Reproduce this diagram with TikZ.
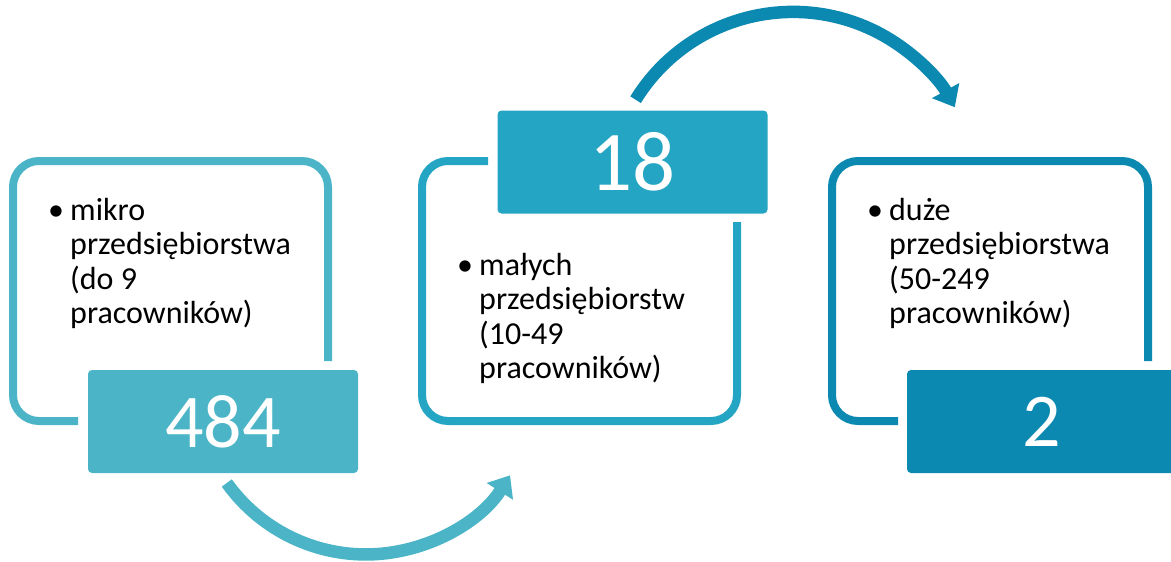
\documentclass[tikz,border=0pt]{standalone}
\usepackage{fontspec}
\setmainfont{Carlito}
\usetikzlibrary{arrows.meta}
\definecolor{tealA}{HTML}{4BB5C7}
\definecolor{tealB}{HTML}{24A5C3}
\definecolor{tealC}{HTML}{0C89B1}

\begin{document}
\begin{tikzpicture}[x=1pt, y=1pt,
  frame/.style={line width=8pt, rounded corners=26pt},
  numbox/.style={rounded corners=4pt, text=white, inner sep=0pt,
    minimum width=270pt, minimum height=103pt, font=\fontsize{76}{80}\selectfont},
  desc/.style={anchor=base west, inner sep=0pt, font=\fontsize{32}{34.5}\selectfont},
  curvearrow/.style={line width=12.5pt, -{Triangle[length=19pt,width=30pt]}}]
\useasboundingbox (0,0) rectangle (1171,-562);
\begin{scope}
  \draw[frame, tealA] (78,-421) -- (13,-421) -- (13,-161) -- (328,-161) -- (328,-361); %frame 1
  \draw[frame, tealB] (488,-161) -- (422,-161) -- (422,-421) -- (737,-421) -- (737,-222); %frame 2
  \draw[frame, tealC] (898,-421) -- (832,-421) -- (832,-161) -- (1148,-161) -- (1148,-361); %frame 3
  \node[numbox, fill=tealA] (num0) at (223,-421.5) {484}; %count
  \node[numbox, fill=tealB, font=\fontsize{85}{90}\selectfont] (num1) at (632.5,-162) {18}; %count
  \node[numbox, fill=tealC] (num2) at (1042,-421.5) {2}; %count
  \node[desc] (desc0) at (48,-220) {\begin{tabular}[t]{@{}l@{}l@{}}\makebox[22pt][l]{•} & mikro\\ & przedsiębiorstwa\\ & (do 9\\ & pracowników)\end{tabular}};
  \node[desc] (desc1) at (457,-275) {\begin{tabular}[t]{@{}l@{}l@{}}\makebox[22pt][l]{•} & małych\\ & przedsiębiorstw\\ & (10-49\\ & pracowników)\end{tabular}};
  \node[desc] (desc2) at (867,-220) {\begin{tabular}[t]{@{}l@{}l@{}}\makebox[22pt][l]{•} & duże\\ & przedsiębiorstwa\\ & (50-249\\ & pracowników)\end{tabular}};
  \coordinate (arr0) at (226.8,-483); %below num0
  \coordinate (arr1) at (635.6,-99.7); %above num1
  \draw[curvearrow, tealA] (arr0) arc[start angle=215.6, end angle=327.5, radius=171];
  \draw[curvearrow, tealC] (arr1) arc[start angle=148.3, end angle=29, radius=185];
\end{scope}
\end{tikzpicture}
\end{document}
